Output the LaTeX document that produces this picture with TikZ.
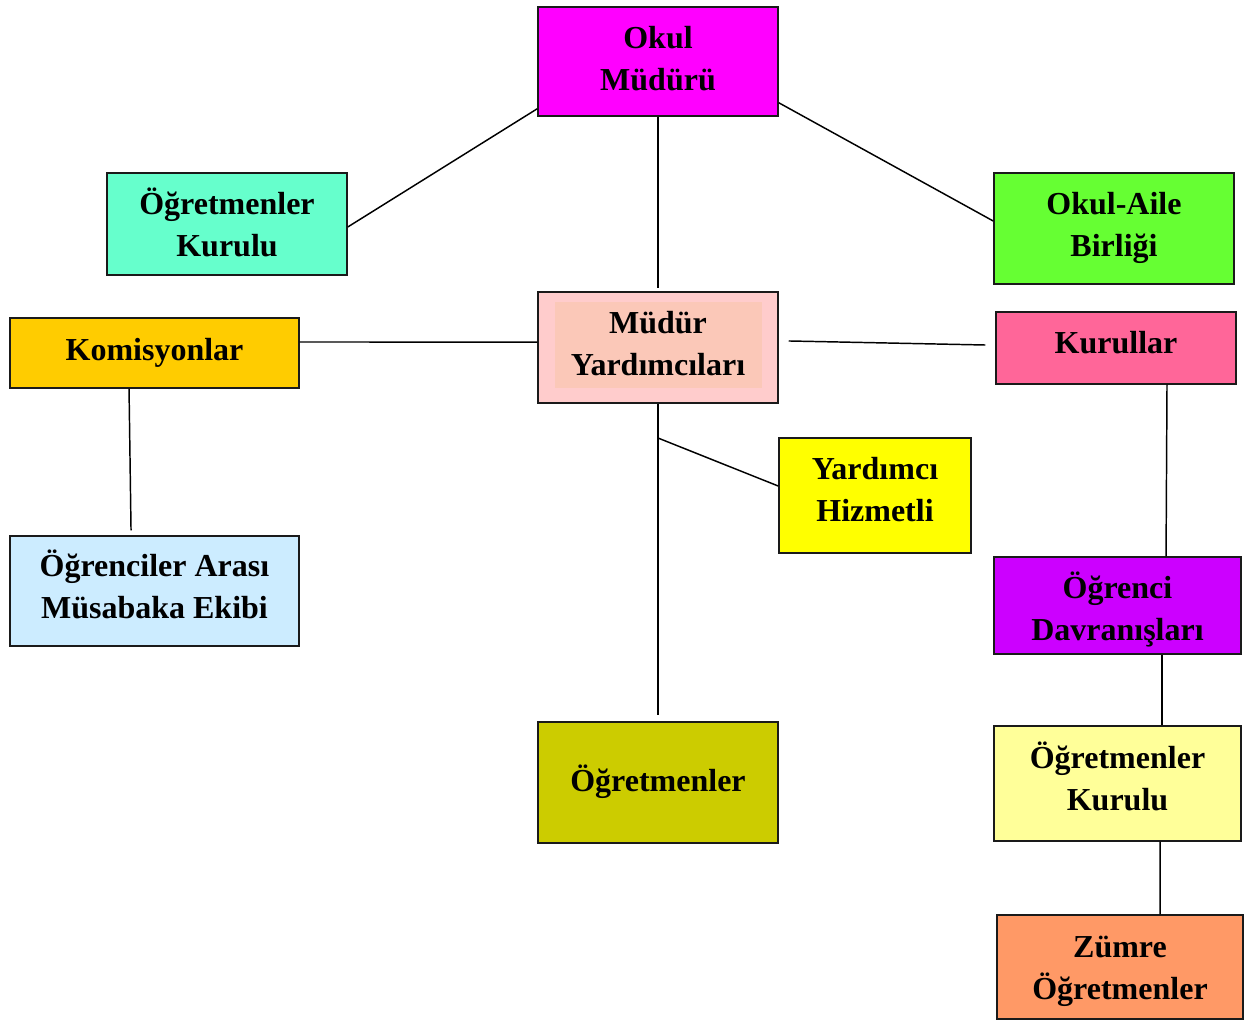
\documentclass[tikz,border=0pt]{standalone}
\usepackage{fontspec}
\setmainfont{Liberation Serif}
\usetikzlibrary{calc}
\definecolor{cOM}{HTML}{FF00FF}
\definecolor{cOKL}{HTML}{66FFCC}
\definecolor{cOAB}{HTML}{66FF33}
\definecolor{cKOM}{HTML}{FFCC00}
\definecolor{cMY}{HTML}{FFCCCC}
\definecolor{cMYin}{HTML}{FBC8B8}
\definecolor{cKUR}{HTML}{FF6699}
\definecolor{cYH}{HTML}{FFFF00}
\definecolor{cOAM}{HTML}{CCECFF}
\definecolor{cOD}{HTML}{CC00FF}
\definecolor{cOGR}{HTML}{CCCC00}
\definecolor{cOKR}{HTML}{FFFF99}
\definecolor{cZO}{HTML}{FF9966}
\definecolor{edge}{HTML}{1A1A1A}
\tikzset{
  box/.style={draw=edge, line width=1.1pt, rectangle, inner sep=0pt},
  txt/.style={align=center, inner sep=0pt, font=\fontsize{24}{31.5}\selectfont\bfseries},
  conn/.style={draw=black, line width=1.1pt}
}
\begin{document}
\begin{tikzpicture}[x=0.75pt,y=-0.75pt]
\useasboundingbox (0,0) rectangle (1248,1021);
\node[box, fill=cOM, minimum width=180pt, minimum height=81.75pt] (om) at (658,61.5) {};
\node[txt] (omt) at (658,58.5) {Okul\\Müdürü};
\node[box, fill=cOKL, minimum width=180pt, minimum height=76.5pt] (okl) at (227,224) {};
\node[txt] (oklt) at (227,222) {Öğretmenler\\Kurulu};
\node[box, fill=cOAB, minimum width=180pt, minimum height=83.25pt] (oab) at (1114,228.5) {};
\node[txt] (oabt) at (1114,227.5) {Okul-Aile\\Birliği};
\node[box, fill=cKOM, minimum width=216.75pt, minimum height=52.5pt] (kom) at (154.5,353) {};
\node[txt] (komt) at (154.5,353) {Komisyonlar};
\node[box, fill=cMY, minimum width=180pt, minimum height=83.25pt,
  path picture={\fill[cMYin] ([xshift=12.75pt,yshift=-7.5pt]path picture bounding box.north west) rectangle ([xshift=-12pt,yshift=11.25pt]path picture bounding box.south east);}] (my) at (658,347.5) {};
\node[txt] (myt) at (658,343.5) {Müdür\\Yardımcıları};
\node[box, fill=cKUR, minimum width=180pt, minimum height=54pt] (kur) at (1116,348) {};
\node[txt] (kurt) at (1116,343) {Kurullar};
\node[box, fill=cYH, minimum width=144pt, minimum height=86.25pt] (yh) at (875,495.5) {};
\node[txt] (yht) at (875,489.5) {Yardımcı\\Hizmetli};
\node[box, fill=cOAM, minimum width=216.75pt, minimum height=82.5pt] (oam) at (154.5,591) {};
\node[txt] (oamt) at (154.5,584) {Öğrenciler Arası\\Müsabaka Ekibi};
\node[box, fill=cOD, minimum width=185.25pt, minimum height=72.75pt] (od) at (1117.5,605.5) {};
\node[txt] (odt) at (1117.5,609.5) {Öğrenci\\Davranışları};
\node[box, fill=cOGR, minimum width=180pt, minimum height=90.75pt] (ogr) at (658,782.5) {};
\node[txt] (ogrt) at (658,781.5) {Öğretmenler};
\node[box, fill=cOKR, minimum width=185.25pt, minimum height=86.25pt] (okr) at (1117.5,783.5) {};
\node[txt] (okrt) at (1117.5,776.5) {Öğretmenler\\Kurulu};
\node[box, fill=cZO, minimum width=184.5pt, minimum height=78pt] (zo) at (1120,967) {};
\node[txt] (zot) at (1120,971) {Zümre\\Öğretmenler};
% connectors
\draw[conn] ([yshift=6pt]om.south west) -- ([yshift=-2.25pt]okl.east);
\draw[conn] (om.south) -- ([yshift=2.25pt]my.north);
\draw[conn] ([yshift=10.5pt]om.south east) -- ([yshift=5.6pt]oab.west);
\draw[conn] ([yshift=8.25pt]kom.east) -- ([yshift=4.1pt]my.west);
\draw[conn] ([xshift=7.5pt,yshift=4.9pt]my.east) -- ([xshift=-7.5pt,yshift=2.25pt]kur.west);
\draw[conn] ([xshift=38.25pt]kur.south) -- ([xshift=36.4pt]od.north);
\draw[conn] ([xshift=-19.1pt]kom.south) -- ([xshift=-17.6pt,yshift=3.75pt]oam.north);
\draw[conn] (my.south) -- ([yshift=4.5pt]ogr.north);
\coordinate (br) at (658,438);
\draw[conn] (br) -- ([yshift=7.1pt]yh.west);
\draw[conn] ([xshift=33.4pt]od.south) -- ([xshift=33.4pt]okr.north);
\draw[conn] ([xshift=31.9pt]okr.south) -- ([xshift=30pt]zo.north);
\end{tikzpicture}
\end{document}
